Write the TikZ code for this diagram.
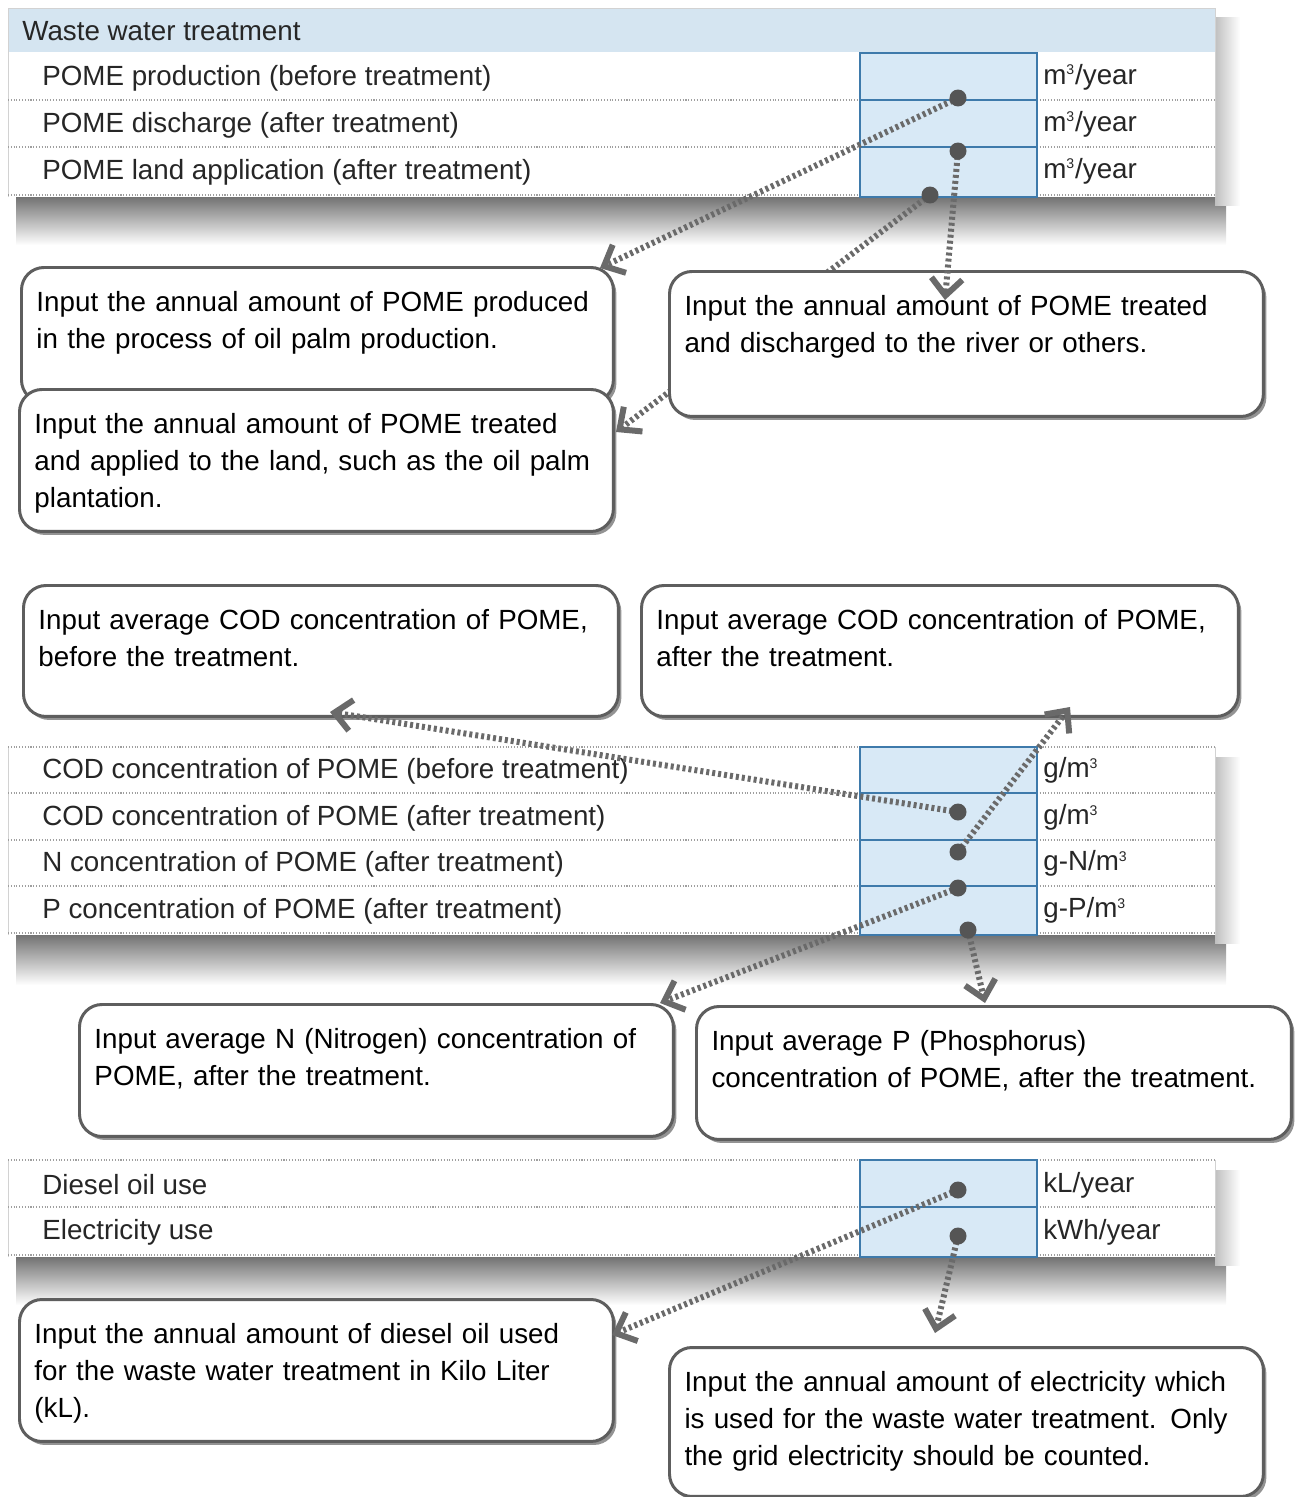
\documentclass[tikz,border=0pt]{standalone}
\usepackage{fontspec}
\setmainfont{Liberation Sans}
\usetikzlibrary{arrows.meta,shadows,positioning}

\hyphenpenalty=10000
\exhyphenpenalty=10000

\definecolor{hdrblue}{HTML}{D5E5F1}
\definecolor{cellblue}{HTML}{D8E9F6}
\definecolor{cellline}{HTML}{3E7AAB}
\definecolor{boxgray}{HTML}{5E5E5E}
\definecolor{arrgray}{HTML}{6A6A6A}

\newcommand\cubed{\textsuperscript{\fontsize{8}{8}\selectfont 3}}

\tikzset{
  rowtext/.style={anchor=west, inner sep=0pt, font=\fontsize{15.8}{19}\selectfont, text=black!85},
  sepline/.style={gray!75, densely dotted, line width=0.6pt},
  inputcell/.style={draw=cellline, fill=cellblue, line width=1.2pt},
  callout/.style={draw=boxgray, line width=1.7pt, rounded corners=0.45cm, fill=white,
    anchor=north west, align=left, inner xsep=0.3cm, inner ysep=0.48cm, text height=0.4cm,
    font=\fontsize{15.8}{21}\selectfont,
    drop shadow={shadow xshift=0.06cm, shadow yshift=-0.07cm, fill=gray!85, opacity=1}},
  pin/.style={circle, fill=arrgray!80!black, inner sep=0pt, minimum size=0.34cm},
  hint/.style={draw=arrgray, line width=0.12cm, dash pattern=on 0.06cm off 0.06cm,
    -{Straight Barb[length=0.34cm,width=0.62cm]}},
  shadowbot/.style={top color=black!55, bottom color=white},
  shadowside/.style={left color=black!25, right color=white},
}

\begin{document}
\begin{tikzpicture}[x=0.02cm, y=-0.02cm]
\useasboundingbox (0,0) rectangle (1299,1497);

% --- table 1
\shade[shadowbot] (16,197) rectangle (1226,245);
\shade[shadowside] (1215,18) rectangle (1240,205);
\fill[white] (8,8) rectangle (1215,197);
\fill[hdrblue] (8,8) rectangle (1215,52);
\draw[gray!35] (8,197) -- (8,8) -- (1215,8) -- (1215,197);
\foreach \y in {100,147,195} \draw[sepline] (8,\y) -- (1215,\y);
\filldraw[inputcell] (860,53) rectangle (1037,197);
\foreach \y in {100,147} \draw[cellline, line width=1.2pt] (860,\y) -- (1037,\y);
\node[rowtext] (ttl) at (22,31) {Waste water treatment};
\node[rowtext] (pomeprod) at (42,78) {POME production (before treatment)};
\node[rowtext] (pomedis) at (42,125) {POME discharge (after treatment)};
\node[rowtext] (pomeland) at (42,172) {POME land application (after treatment)};
\foreach \y/\n in {77/uprod,124/udis,171/uland}
  \node[rowtext] (\n) at (1043,\y) {m\cubed/year};

% --- table 2
\shade[shadowbot] (16,935) rectangle (1226,985);
\shade[shadowside] (1215,757) rectangle (1240,943);
\fill[white] (8,747) rectangle (1215,935);
\draw[gray!35] (8,935) -- (8,747) (1215,747) -- (1215,935);
\foreach \y in {747,793,840,886,933} \draw[sepline] (8,\y) -- (1215,\y);
\filldraw[inputcell] (860,747) rectangle (1037,935);
\foreach \y in {793,840,886} \draw[cellline, line width=1.2pt] (860,\y) -- (1037,\y);
\node[rowtext] (codb) at (42,771) {COD concentration of POME (before treatment)};
\node[rowtext] (coda) at (42,818) {COD concentration of POME (after treatment)};
\node[rowtext] (nconc) at (42,864) {N concentration of POME (after treatment)};
\node[rowtext] (pconc) at (42,911) {P concentration of POME (after treatment)};
\node[rowtext] (ucodb) at (1043,770) {g/m\cubed};
\node[rowtext] (ucoda) at (1043,817) {g/m\cubed};
\node[rowtext] (unconc) at (1043,863) {g-N/m\cubed};
\node[rowtext] (upconc) at (1043,910) {g-P/m\cubed};

% --- table 3
\shade[shadowbot] (16,1257) rectangle (1226,1305);
\shade[shadowside] (1215,1170) rectangle (1240,1265);
\fill[white] (8,1160) rectangle (1215,1257);
\draw[gray!35] (8,1257) -- (8,1160) (1215,1160) -- (1215,1257);
\foreach \y in {1160,1207,1255} \draw[sepline] (8,\y) -- (1215,\y);
\filldraw[inputcell] (860,1160) rectangle (1037,1257);
\draw[cellline, line width=1.2pt] (860,1207) -- (1037,1207);
\node[rowtext] (diesel) at (42,1185) {Diesel oil use};
\node[rowtext] (elec) at (42,1232) {Electricity use};
\node[rowtext] (udiesel) at (1043,1185) {kL/year};
\node[rowtext] (uelec) at (1043,1232) {kWh/year};

% pins in the input cells and arrow tips
\coordinate (dprod) at (958,98);
\coordinate (ddis) at (958,151);
\coordinate (dland) at (930,195);
\coordinate (dcodb) at (958,812);
\coordinate (dcoda) at (958,852);
\coordinate (dn) at (958,888);
\coordinate (dp) at (968,930);
\coordinate (ddiesel) at (958,1190);
\coordinate (delec) at (958,1236);
\coordinate (tprod) at (600,268);
\coordinate (tdis) at (945,300);
\coordinate (tland) at (616,432);
\coordinate (tcodb) at (330,712);
\coordinate (tcoda) at (1070,707);
\coordinate (tn) at (660,1003);
\coordinate (tp) at (985,1003);
\coordinate (tdiesel) at (612,1335);
\coordinate (telec) at (935,1333);

% --- callouts
\node[callout, text width=11.24cm, text depth=1.34cm] (cprod) at (20,266)
  {Input the annual amount of POME produced\\in the process of oil palm production.};
\node[callout, text width=11.28cm, text depth=1.48cm] (cland) at (18,388)
  {Input the annual amount of POME treated\\and applied to the land, such as the oil palm\\plantation.};
\draw[hint] (dland) -- (tland);
\node[callout, text width=11.28cm, text depth=1.54cm] (cdis) at (668,270)
  {Input the annual amount of POME treated\\and discharged to the river or others.};
\node[callout, text width=11.3cm, text depth=1.26cm] (ccodb) at (22,584)
  {Input average COD concentration of POME,\\before the treatment.};
\node[callout, text width=11.34cm, text depth=1.26cm] (ccoda) at (640,584)
  {Input average COD concentration of POME,\\after the treatment.};
\node[callout, text width=11.28cm, text depth=1.28cm] (cn) at (78,1003)
  {Input average N (Nitrogen) concentration of\\POME, after the treatment.};
\node[callout, text width=11.3cm, text depth=1.30cm] (cp) at (695,1005)
  {Input average P (Phosphorus)\\concentration of POME, after the treatment.};
\node[callout, text width=11.28cm, text depth=1.48cm] (cdiesel) at (18,1298)
  {Input the annual amount of diesel oil used\\for the waste water treatment in Kilo Liter\\(kL).};
\node[callout, text width=11.28cm, text depth=1.62cm] (celec) at (668,1346)
  {Input the annual amount of electricity which\\is used for the waste water treatment. Only\\the grid electricity should be counted.};

% --- arrows
\foreach \a/\b in {dprod/tprod,ddis/tdis,dcodb/tcodb,dcoda/tcoda,dn/tn,dp/tp,ddiesel/tdiesel,delec/telec}
  \draw[hint] (\a) -- (\b);

\foreach \d in {dprod,ddis,dland,dcodb,dcoda,dn,dp,ddiesel,delec}
  \node[pin] (p\d) at (\d) {};
\end{tikzpicture}
\end{document}
